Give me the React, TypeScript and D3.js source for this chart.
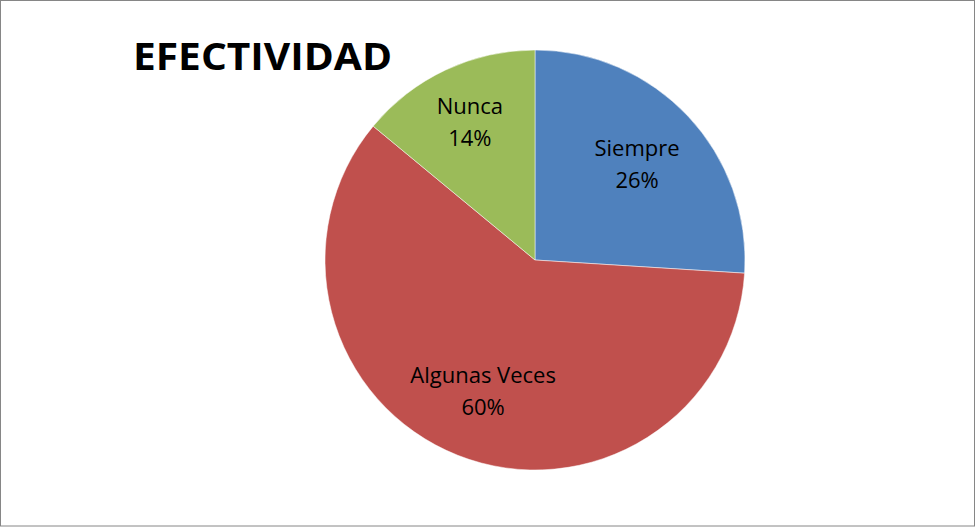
import React, { useEffect, useRef } from "react";
import * as d3 from "d3";

const categories = ["Siempre", "Algunas Veces", "Nunca"];
const values = [26, 60, 14];
const colors = ["#4f81bd", "#c0504d", "#9bbb59"];
const title = "EFECTIVIDAD";

export default function App() {
  const svgRef = useRef<SVGSVGElement>(null);

  useEffect(() => {
    const svg = d3.select(svgRef.current);
    svg.selectAll("*").remove();

    const width = 976;
    const height = 527;
    const cx = 535;
    const cy = 260;
    const radius = 210;
    // how far from the centre each slice's label sits
    const labelRadius = [140, 141, 153];

    // frame
    svg
      .append("rect")
      .attr("x", 0.5)
      .attr("y", 0.5)
      .attr("width", width - 2)
      .attr("height", height - 1.5)
      .attr("fill", "#fff")
      .attr("stroke", "#868686")
      .attr("stroke-width", 1);

    // title
    svg
      .append("text")
      .attr("x", 133)
      .attr("y", 70)
      .style("font-family", "'Open Sans', sans-serif")
      .style("font-weight", "700")
      .style("font-size", "37px")
      .attr("textLength", 259)
      .attr("lengthAdjust", "spacingAndGlyphs")
      .style("fill", "#000")
      .text(title);

    const data = categories.map((c, i) => ({ name: c, value: values[i] }));
    const pie = d3
      .pie<{ name: string; value: number }>()
      .sort(null)
      .value((d) => d.value);
    const arcs = pie(data);

    const arc = d3
      .arc<d3.PieArcDatum<{ name: string; value: number }>>()
      .innerRadius(0)
      .outerRadius(radius);

    const g = svg.append("g").attr("transform", `translate(${cx},${cy})`);

    // --- SLICES ---
    g.selectAll("path")
      .data(arcs)
      .join("path")
      .attr("d", arc)
      .attr("fill", (d, i) => colors[i])
      .attr("stroke", "#fff")
      .attr("stroke-width", 0.5);

    // --- LABELS ---
    const total = d3.sum(values);
    const label = g
      .selectAll("g.lbl")
      .data(arcs)
      .join("g")
      .attr("class", "lbl")
      .attr("transform", (d, i) => {
        const [x, y] = d3
          .arc<d3.PieArcDatum<{ name: string; value: number }>>()
          .innerRadius(labelRadius[i])
          .outerRadius(labelRadius[i])
          .centroid(d);
        return `translate(${x},${y})`;
      })
      .style("font-family", "'Open Sans', sans-serif")
      .style("font-size", "22px")
      .style("fill", "#000")
      .attr("text-anchor", "middle");

    label
      .append("text")
      .attr("y", -8)
      .text((d) => d.data.name);
    label
      .append("text")
      .attr("y", 24)
      .text((d) => `${Math.round((d.data.value / total) * 100)}%`);
  }, []);

  return (
    <svg
      ref={svgRef}
      width="976"
      height="527"
      style={{ position: "absolute", left: 0, top: 0, background: "#fff" }}
    ></svg>
  );
}
